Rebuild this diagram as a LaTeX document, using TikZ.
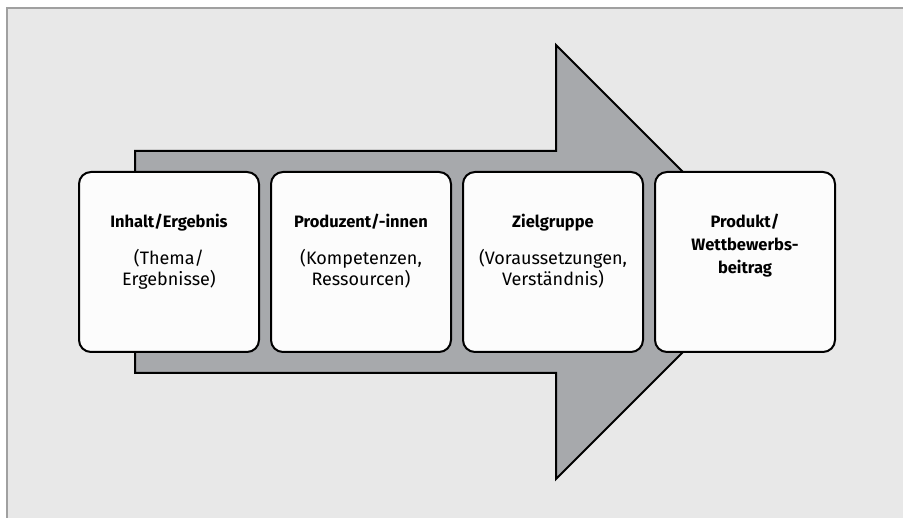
\documentclass[tikz,border=0pt]{standalone}
\usepackage{fontspec}
\setmainfont{Fira Sans}
\usetikzlibrary{positioning}

\definecolor{bgfill}{HTML}{E8E8E8}
\definecolor{framegray}{HTML}{A0A0A0}
\definecolor{arrowgray}{HTML}{A7A9AC}
\definecolor{boxfill}{HTML}{FCFCFC}

\tikzset{
  stage/.style={draw=black,line width=2pt,fill=boxfill,rounded corners=12pt,
                minimum width=180pt,minimum height=180pt,inner sep=0pt},
  stagetitle/.style={font=\fontsize{16.5}{23}\selectfont\bfseries,align=center,anchor=base},
  stagetext/.style={font=\fontsize{18}{21}\selectfont,align=center,anchor=base},
}

\begin{document}
\begin{tikzpicture}[x=1pt,y=-1pt]
    \useasboundingbox (0,0) rectangle (903,518);
    \fill[bgfill] (7,8) rectangle (903,518);
    \draw[framegray,line width=2pt] (7,518) -- (7,8) -- (903,8);
    % grosser Pfeil
    \draw[fill=arrowgray,line width=2pt] (135,151) -- (556,151) -- (556,45) -- (773,262)
          -- (556,479) -- (556,373) -- (135,373) -- cycle;
    % Stufen
    \node[stage] (inhalt) at (169,262) {};
    \node[stage,right=10pt of inhalt] (produzent) {};
    \node[stage,right=10pt of produzent] (zielgruppe) {};
    \node[stage,right=10pt of zielgruppe] (produkt) {};
    % Texte (Grundlinie der letzten Zeile)
    \node[stagetitle] (inhalt-t) at ([yshift=-57pt]inhalt.north) {Inhalt/Ergebnis};
    \node[stagetext] (inhalt-d) at ([yshift=-115pt]inhalt.north) {(Thema/\\Ergebnisse)};
    \node[stagetitle] (produzent-t) at ([yshift=-57pt]produzent.north) {Produzent/-innen};
    \node[stagetext] (produzent-d) at ([yshift=-115pt]produzent.north) {(Kompetenzen,\\Ressourcen)};
    \node[stagetitle] (zielgruppe-t) at ([yshift=-57pt]zielgruppe.north) {Zielgruppe};
    \node[stagetext] (zielgruppe-d) at ([yshift=-115pt]zielgruppe.north) {(Voraussetzungen,\\Verständnis)};
    \node[stagetitle] (produkt-t) at ([yshift=-103pt]produkt.north) {Produkt/\\Wettbewerbs-\\beitrag};
\end{tikzpicture}
\end{document}
